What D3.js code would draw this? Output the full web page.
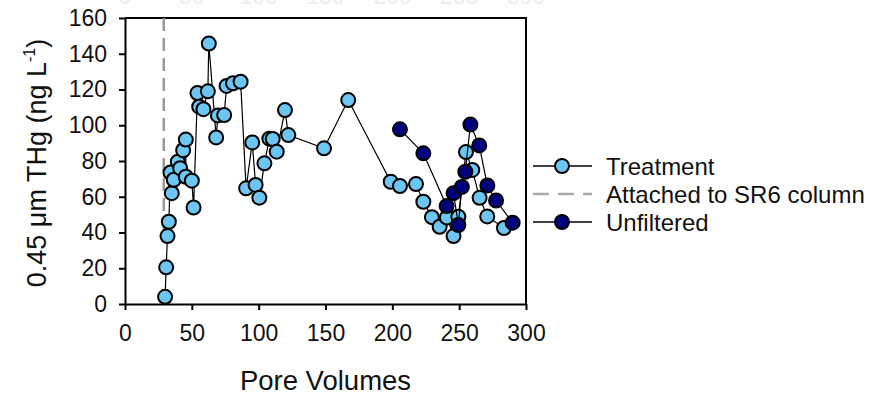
<!DOCTYPE html>
<html>
<head>
<meta charset="utf-8">
<script src="https://cdn.jsdelivr.net/npm/d3@7"></script>
<style>
  html, body { margin: 0; padding: 0; background: #fff; }
  svg { display: block; font-family: "Liberation Sans", Arial, sans-serif; }
</style>
</head>
<body>
<svg id="chart" width="871" height="394"></svg>
<script>
// Treatment series (pore volumes, ng/L)
const treatX = [30, 30.8, 31.8, 32.8, 34, 35, 36.5, 39.5, 41.3, 43.5, 45.5, 45.5, 50, 51.3,
  54.2, 55.5, 58.7, 62, 62.7, 68.2, 69.5, 74.2, 76, 80.8, 86.5, 90.6, 95.2, 97.7, 100.5,
  104.3, 108, 110.5, 113.5, 119.7, 122.2, 148.9, 167, 198.8, 205.7, 217.7, 223.2, 229.6,
  235.4, 240.8, 245.8, 249.4, 255.1, 259.8, 265.3, 271, 283.5]
const treatY = [4, 20.5, 38, 46, 73.5, 62, 69.5, 79.6, 76, 86, 92, 71.2, 69, 54,
  118, 110.4, 109, 119, 145.7, 93.2, 105.5, 105.7, 122, 123.5, 124.4, 64.7, 90.4, 66.6, 59.5,
  78.7, 92.5, 92.3, 85.2, 108.5, 94.5, 87.1, 114.1, 68.4, 66, 67.1, 57.2, 48.6,
  43.2, 48.4, 38, 48.8, 85, 75, 59.4, 49, 42.5]

// Unfiltered series
const unfiltX = [205.7, 223.2, 240.6, 245.8, 249.4, 252, 254.6, 258.4, 265, 271.1, 277.6, 290]
const unfiltY = [97.7, 84.3, 54.8, 62, 44.2, 65.5, 74, 100.4, 88.7, 66.3, 57.9, 45.5]

// SR6 column attachment marker
const attachX = 29
const attachY = [35, 160]

const xTicks = [0, 50, 100, 150, 200, 250, 300]
const yTicks = [0, 20, 40, 60, 80, 100, 120, 140, 160]

const legendItems = [
  { label: "Treatment", kind: "treat" },
  { label: "Attached to SR6 column", kind: "attach" },
  { label: "Unfiltered", kind: "unfilt" }
]

const lightBlue = "#6cc6f1",
  navy = "#00007f",
  markerR = 7

const svg = d3.select("#chart")
const plot = { left: 125, right: 526, top: 18, bottom: 304 }

const x = d3.scaleLinear().domain([0, 300]).range([plot.left, plot.right])
const y = d3.scaleLinear().domain([0, 160]).range([plot.bottom, plot.top])

const toPoints = (xs, ys) => xs.map((v, i) => ({ x: v, y: ys[i] }))
const treat = toPoints(treatX, treatY)
const unfilt = toPoints(unfiltX, unfiltY)

// faint ghost of a top axis (slide artefact)
svg
  .append("g")
  .selectAll("text")
  .data(xTicks)
  .join("text")
  .attr("x", (d) => x(d))
  .attr("y", 4)
  .attr("text-anchor", "middle")
  .attr("font-size", 23)
  .attr("fill", "#ededed")
  .text((d) => d)

// frame (top + right)
svg
  .append("path")
  .attr("d", `M${plot.left},${plot.top}H${plot.right}V${plot.bottom}`)
  .attr("fill", "none")
  .attr("stroke", "#000")
  .attr("stroke-width", 2)

// axes
const xAxis = svg
  .append("g")
  .attr("transform", `translate(0,${plot.bottom})`)
  .call(d3.axisBottom(x).tickValues(xTicks).tickSize(6).tickPadding(13).tickSizeOuter(0))
const yAxis = svg
  .append("g")
  .attr("transform", `translate(${plot.left},0)`)
  .call(d3.axisLeft(y).tickValues(yTicks).tickSize(6).tickPadding(12).tickSizeOuter(0))

;[xAxis, yAxis].forEach((g) => {
  g.select(".domain").attr("stroke-width", 2)
  g.selectAll(".tick line").attr("stroke-width", 2)
  g.selectAll("text")
    .attr("font-size", 23)
    .attr("fill", "#111")
    .attr("font-family", "Liberation Sans, Arial, sans-serif")
})
xAxis.selectAll("text").attr("dy", "0.8em")

// axis titles
svg
  .append("text")
  .attr("x", (plot.left + plot.right) / 2)
  .attr("y", 390)
  .attr("text-anchor", "middle")
  .attr("font-size", 27.5)
  .attr("fill", "#111")
  .text("Pore Volumes")

const yTitle = svg
  .append("text")
  .attr("transform", "translate(46,163) rotate(-90)")
  .attr("text-anchor", "middle")
  .attr("font-size", 27)
  .attr("fill", "#111")
yTitle.append("tspan").text("0.45 ")
yTitle.append("tspan").text("\u03bcm THg (ng L")
yTitle.append("tspan").attr("font-size", 16).attr("dy", -11).text("-1")
yTitle.append("tspan").attr("dy", 11).text(")")

// dashed reference line
svg
  .append("line")
  .attr("x1", x(attachX))
  .attr("x2", x(attachX))
  .attr("y1", y(attachY[1]))
  .attr("y2", y(attachY[0]))
  .attr("stroke", "#999")
  .attr("stroke-width", 2.5)
  .attr("stroke-dasharray", "13,7")

const line = d3
  .line()
  .x((d) => x(d.x))
  .y((d) => y(d.y))

const drawSeries = (data, fill) => {
  svg
    .append("path")
    .datum(data)
    .attr("d", line)
    .attr("fill", "none")
    .attr("stroke", "#000")
    .attr("stroke-width", 1.2)
  svg
    .append("g")
    .selectAll("circle")
    .data(data)
    .join("circle")
    .attr("cx", (d) => x(d.x))
    .attr("cy", (d) => y(d.y))
    .attr("r", markerR)
    .attr("fill", fill)
    .attr("stroke", "#000")
    .attr("stroke-width", 2)
}

drawSeries(treat, lightBlue)
drawSeries(unfilt, navy)

// legend
const legend = svg.append("g").attr("transform", "translate(533,166)")
const rows = legend
  .selectAll("g")
  .data(legendItems)
  .join("g")
  .attr("transform", (d, i) => `translate(0,${i * 28})`)

rows
  .append("line")
  .attr("x1", 0)
  .attr("x2", 59)
  .attr("stroke", (d) => (d.kind === "attach" ? "#aaa" : "#000"))
  .attr("stroke-width", (d) => (d.kind === "attach" ? 2.5 : 1.5))
  .attr("stroke-dasharray", (d) => (d.kind === "attach" ? "16,9" : null))

rows
  .filter((d) => d.kind !== "attach")
  .append("circle")
  .attr("cx", 29)
  .attr("r", markerR)
  .attr("fill", (d) => (d.kind === "treat" ? lightBlue : navy))
  .attr("stroke", "#000")
  .attr("stroke-width", 2)

rows
  .append("text")
  .attr("x", 73)
  .attr("dy", "0.36em")
  .attr("font-size", 24)
  .attr("fill", "#111")
  .text((d) => d.label)
</script>
</body>
</html>
